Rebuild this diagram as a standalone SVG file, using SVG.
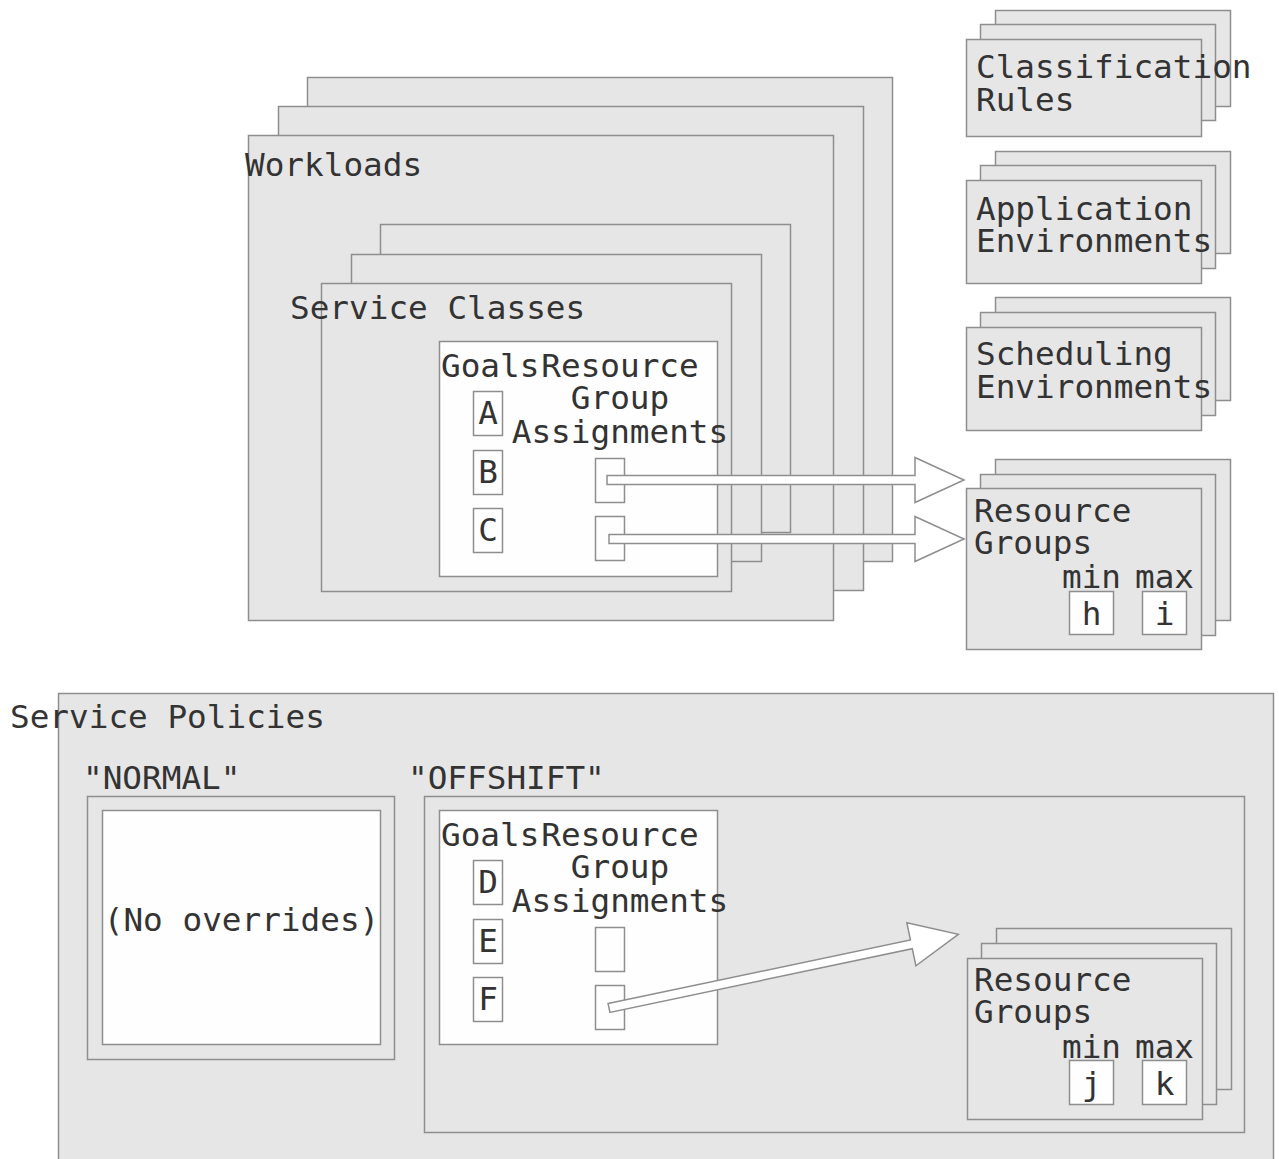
<svg xmlns="http://www.w3.org/2000/svg" width="1279" height="1159" viewBox="0 0 1279 1159">
<style>
.g{fill:#e6e6e7;stroke:#8e8e8e;stroke-width:1.5}
.w{fill:#fefefe;stroke:#8e8e8e;stroke-width:1.5}
.t{font-family:"DejaVu Sans Mono","Liberation Mono",monospace;font-size:32.7px;fill:#333333}
.m{text-anchor:middle}
.a{fill:#ffffff;stroke:#8e8e8e;stroke-width:1.5;stroke-linejoin:miter}
</style>
<rect width="1279" height="1159" fill="#ffffff"/>

<g id="workloads">
<rect class="g" x="307.5" y="77.5" width="585" height="484"/>
<rect class="g" x="278.5" y="106.5" width="585" height="484"/>
<rect class="g" x="248.5" y="135.5" width="585" height="485"/>
<text class="t" x="245" y="176">Workloads</text>
</g>

<g id="service-classes">
<rect class="g" x="380.5" y="224.5" width="410" height="308"/>
<rect class="g" x="351.5" y="254.5" width="410" height="307"/>
<rect class="g" x="321.5" y="283.5" width="410" height="308"/>
<text class="t" x="290" y="319">Service Classes</text>
</g>

<g id="service-class-detail">
<rect class="w" x="439.5" y="341.5" width="278" height="235"/>
<text class="t" x="441" y="377">Goals</text>
<text class="t m" x="620" y="377">Resource</text>
<text class="t m" x="620" y="409">Group</text>
<text class="t m" x="620" y="443">Assignments</text>
<rect class="w" x="473.5" y="391.5" width="29" height="44"/>
<text class="t m" x="488" y="424">A</text>
<rect class="w" x="473.5" y="450.5" width="29" height="44"/>
<text class="t m" x="488" y="483">B</text>
<rect class="w" x="473.5" y="508.5" width="29" height="44"/>
<text class="t m" x="488" y="541">C</text>
<rect class="w" x="595.5" y="458.5" width="29" height="44"/>
<rect class="w" x="595.5" y="516.5" width="29" height="44"/>
</g>

<g id="classification-rules">
<rect class="g" x="995.5" y="10.5" width="235" height="96"/>
<rect class="g" x="980.5" y="24.5" width="235" height="96"/>
<rect class="g" x="966.5" y="39.5" width="235" height="97"/>
<text class="t" x="976" y="78">Classification</text>
<text class="t" x="976" y="111">Rules</text>
</g>

<g id="application-environments">
<rect class="g" x="995.5" y="151.5" width="235" height="102"/>
<rect class="g" x="980.5" y="165.5" width="235" height="103"/>
<rect class="g" x="966.5" y="180.5" width="235" height="103"/>
<text class="t" x="976" y="220">Application</text>
<text class="t" x="976" y="252">Environments</text>
</g>

<g id="scheduling-environments">
<rect class="g" x="995.5" y="297.5" width="235" height="103"/>
<rect class="g" x="980.5" y="312.5" width="235" height="103"/>
<rect class="g" x="966.5" y="327.5" width="235" height="103"/>
<text class="t" x="976" y="365">Scheduling</text>
<text class="t" x="976" y="398">Environments</text>
</g>

<g id="resource-groups-top">
<rect class="g" x="995.5" y="459.5" width="235" height="161"/>
<rect class="g" x="980.5" y="474.5" width="235" height="161"/>
<rect class="g" x="966.5" y="488.5" width="235" height="161"/>
<text class="t" x="974" y="522">Resource</text>
<text class="t" x="974" y="554">Groups</text>
<text class="t" x="1062" y="588">min</text>
<text class="t" x="1135" y="588">max</text>
<rect class="w" x="1069.5" y="591.5" width="44" height="43"/>
<text class="t m" x="1091.5" y="625">h</text>
<rect class="w" x="1142.5" y="591.5" width="44" height="43"/>
<text class="t m" x="1164.5" y="625">i</text>
</g>

<g id="service-policies">
<rect class="g" x="58.5" y="693.5" width="1215" height="480"/>
<text class="t" x="10" y="728">Service Policies</text>
</g>

<g id="normal-policy">
<text class="t" x="83" y="789">"NORMAL"</text>
<rect class="g" x="87.5" y="796.5" width="307" height="263"/>
<rect class="w" x="102.5" y="810.5" width="278" height="234"/>
<text class="t m" x="241.5" y="931">(No overrides)</text>
</g>

<g id="offshift-policy">
<text class="t" x="408" y="789">"OFFSHIFT"</text>
<rect class="g" x="424.5" y="796.5" width="820" height="336"/>
</g>

<g id="offshift-detail">
<rect class="w" x="439.5" y="810.5" width="278" height="234"/>
<text class="t" x="441" y="846">Goals</text>
<text class="t m" x="620" y="846">Resource</text>
<text class="t m" x="620" y="878">Group</text>
<text class="t m" x="620" y="912">Assignments</text>
<rect class="w" x="473.5" y="860.5" width="29" height="44"/>
<text class="t m" x="488" y="893">D</text>
<rect class="w" x="473.5" y="919.5" width="29" height="44"/>
<text class="t m" x="488" y="952">E</text>
<rect class="w" x="473.5" y="977.5" width="29" height="44"/>
<text class="t m" x="488" y="1010">F</text>
<rect class="w" x="595.5" y="927.5" width="29" height="44"/>
<rect class="w" x="595.5" y="985.5" width="29" height="44"/>
</g>

<g id="resource-groups-bottom">
<rect class="g" x="996.5" y="928.5" width="235" height="161"/>
<rect class="g" x="981.5" y="943.5" width="235" height="161"/>
<rect class="g" x="967.5" y="958.5" width="235" height="161"/>
<text class="t" x="974" y="991">Resource</text>
<text class="t" x="974" y="1023">Groups</text>
<text class="t" x="1062" y="1058">min</text>
<text class="t" x="1135" y="1058">max</text>
<rect class="w" x="1069.5" y="1060.5" width="44" height="44"/>
<text class="t m" x="1091.5" y="1095">j</text>
<rect class="w" x="1142.5" y="1060.5" width="44" height="44"/>
<text class="t m" x="1164.5" y="1095">k</text>
</g>

<g id="connectors">
<polygon class="a" transform="translate(607,480)" points="0,-4.5 308,-4.5 308,-22.5 357,0 308,22.5 308,4.5 0,4.5"/>
<polygon class="a" transform="translate(609,539)" points="0,-4.5 306,-4.5 306,-22.5 355,0 306,22.5 306,4.5 0,4.5"/>
<polygon class="a" transform="translate(609,1008) rotate(-11.9)" points="0,-4.5 309,-4.5 309,-22 357,0 309,22 309,4.5 0,4.5"/>
</g>
</svg>
